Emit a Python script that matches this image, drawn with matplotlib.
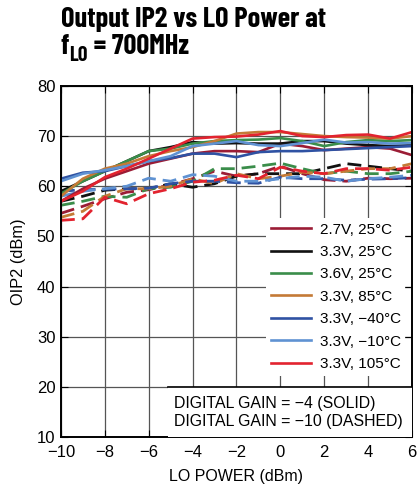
import matplotlib
matplotlib.use("Agg")
import matplotlib.pyplot as plt
from matplotlib import font_manager
from matplotlib.patches import Rectangle

plt.rcParams["font.family"] = ["Liberation Sans", "DejaVu Sans"]
installed = {f.name for f in font_manager.fontManager.ttflist}
if "Barlow Condensed" in installed:
    TITLE_FONT, TITLE_SIZE = "Barlow Condensed", 20.5
else:
    TITLE_FONT, TITLE_SIZE = "Liberation Sans", 15

# LO power (dBm)
lo_power = [-10, -9, -8, -7, -6, -5, -4, -3, -2, -1, 0, 1, 2, 3, 4, 5, 6]

labels = ["2.7V, 25°C", "3.3V, 25°C", "3.6V, 25°C", "3.3V, 85°C",
          "3.3V, −40°C", "3.3V, −10°C", "3.3V, 105°C"]
colors = ["#9b1c35", "#111111", "#3a8d4a", "#c47a36", "#2f52a3", "#5f92d2", "#e2232f"]

# OIP2, digital gain = -4 (solid)
oip2_gain4 = [
    [57, 59.5, 61.5, 63, 64.5, 65.5, 66.5, 67, 67, 66.8, 68.5, 68, 67.2, 67.5, 67.8, 67.5, 66.2],
    [59, 61, 63, 65, 67, 67.8, 68.8, 68.5, 68.6, 68.5, 68.5, 69, 69, 68.5, 68.2, 68, 68.2],
    [58.5, 61, 63, 65, 67, 67.5, 68.5, 69, 69.2, 69.3, 69.6, 69, 68, 68.8, 69.2, 69, 69.2],
    [58, 61.5, 63.5, 64.5, 66, 67, 67.8, 69, 70.5, 70.8, 70.8, 70.4, 70, 69.8, 69.7, 69.5, 70],
    [61.5, 62.7, 63, 64, 65, 65.6, 66.5, 66.5, 65.8, 66.8, 67, 67, 67.2, 67.4, 67.6, 67.8, 68],
    [61, 62.5, 63.2, 64, 65, 66, 68, 68.5, 69, 68.2, 68, 68.6, 69.3, 68.7, 68.8, 68.5, 68.6],
    [57, 59, 61.8, 63.5, 65.5, 67.5, 69.5, 69.8, 69.9, 70.3, 71, 70, 69.8, 70.2, 70.3, 69.5, 70.8],
]

# OIP2, digital gain = -10 (dashed)
oip2_gain10 = [
    [54.6, 56, 57.5, 58.8, 59.3, 60.3, 61.5, 63, 62, 62.5, 64, 62.5, 61.3, 61, 61.6, 61.5, 61.6],
    [57, 58, 59.2, 59.5, 59.5, 60.5, 59.8, 60.5, 62, 62.5, 62.5, 62.5, 63.5, 64.5, 64, 63.5, 63],
    [56.2, 57, 58, 57.8, 59.5, 59.8, 61, 63.5, 63.5, 64, 64.6, 63.5, 62.5, 63, 62.5, 62.5, 63],
    [53.8, 55, 58, 59.5, 59.5, 60, 61.5, 60.5, 62.5, 61.5, 62, 62.8, 62.5, 63, 63.5, 63.5, 64.5],
    [59, 59.3, 59.4, 59.5, 59.6, 60.5, 61, 61, 60.7, 60.6, 61.8, 61.5, 61.5, 61.2, 61.4, 61.5, 61.7],
    [58, 59, 59.5, 60, 61.6, 61, 62.3, 62, 61, 61, 61.5, 62, 61.8, 61, 61.5, 61.8, 62.2],
    [53.2, 53.5, 57.8, 56.5, 58.5, 59.5, 60.8, 61.2, 62.2, 61.5, 63.8, 63, 62.5, 63.5, 63.5, 63.2, 63.8],
]

fig = plt.figure(figsize=(4.2, 4.91), dpi=100)
ax = fig.add_axes([0.145, 0.110, 0.836, 0.715])

for vals, c in zip(oip2_gain10, colors):
    ax.plot(lo_power, vals, color=c, lw=2.0, ls=(0, (5, 2.5)), solid_capstyle="butt")
lines = []
for vals, c, lab in zip(oip2_gain4, colors, labels):
    ln, = ax.plot(lo_power, vals, color=c, lw=1.9, label=lab)
    lines.append(ln)

ax.set_xlim(-10, 6)
ax.set_ylim(10, 80)
ax.set_xticks(range(-10, 7, 2))
ax.set_yticks(range(10, 81, 10))
ax.grid(True, color="#555555", lw=0.9)
ax.set_axisbelow(True)
for s in ax.spines.values():
    s.set_linewidth(1.4)
ax.tick_params(direction="in", length=5, labelsize=12, top=True, right=True, pad=4)
ax.tick_params(axis="x", pad=6)
ax.set_xlabel("LO POWER (dBm)", fontsize=11.5, labelpad=6)
ax.set_ylabel("OIP2 (dBm)", fontsize=11.8, labelpad=8)

leg = ax.legend(handles=lines, loc="lower left", bbox_to_anchor=(0.585, 0.175),
                fontsize=11, frameon=True, fancybox=False, framealpha=1,
                edgecolor="none", handlelength=2.6, handletextpad=0.6,
                labelspacing=0.55, borderpad=0.3, borderaxespad=0)

ax.add_patch(Rectangle((0.305, 0.0), 0.695, 1 / 7, transform=ax.transAxes,
                       facecolor="white", edgecolor="none", zorder=6))
ax.plot([0.305, 1], [1 / 7, 1 / 7], transform=ax.transAxes, color="black", lw=1.2, zorder=7)
ax.text(0.322, 0.07, "DIGITAL GAIN = −4 (SOLID)\nDIGITAL GAIN = −10 (DASHED)",
        transform=ax.transAxes, ha="left", va="center", fontsize=11.4,
        linespacing=1.2, zorder=8)

# title with subscript
fig.text(0.145, 0.945, "Output IP2 vs LO Power at", fontsize=TITLE_SIZE, fontweight="bold",
         family=TITLE_FONT, ha="left", va="baseline")
r = fig.canvas.get_renderer()
t1 = fig.text(0.145, 0.890, "f", fontsize=TITLE_SIZE, fontweight="bold", family=TITLE_FONT,
              ha="left", va="baseline")
x1 = fig.transFigure.inverted().transform((t1.get_window_extent(r).x1, 0))[0]
t2 = fig.text(x1, 0.876, "LO", fontsize=TITLE_SIZE * 0.72, fontweight="bold",
              family=TITLE_FONT, ha="left", va="baseline")
x2 = fig.transFigure.inverted().transform((t2.get_window_extent(r).x1, 0))[0]
fig.text(x2, 0.890, " = 700MHz", fontsize=TITLE_SIZE, fontweight="bold", family=TITLE_FONT,
         ha="left", va="baseline")

fig.savefig("out.png", dpi=100)
